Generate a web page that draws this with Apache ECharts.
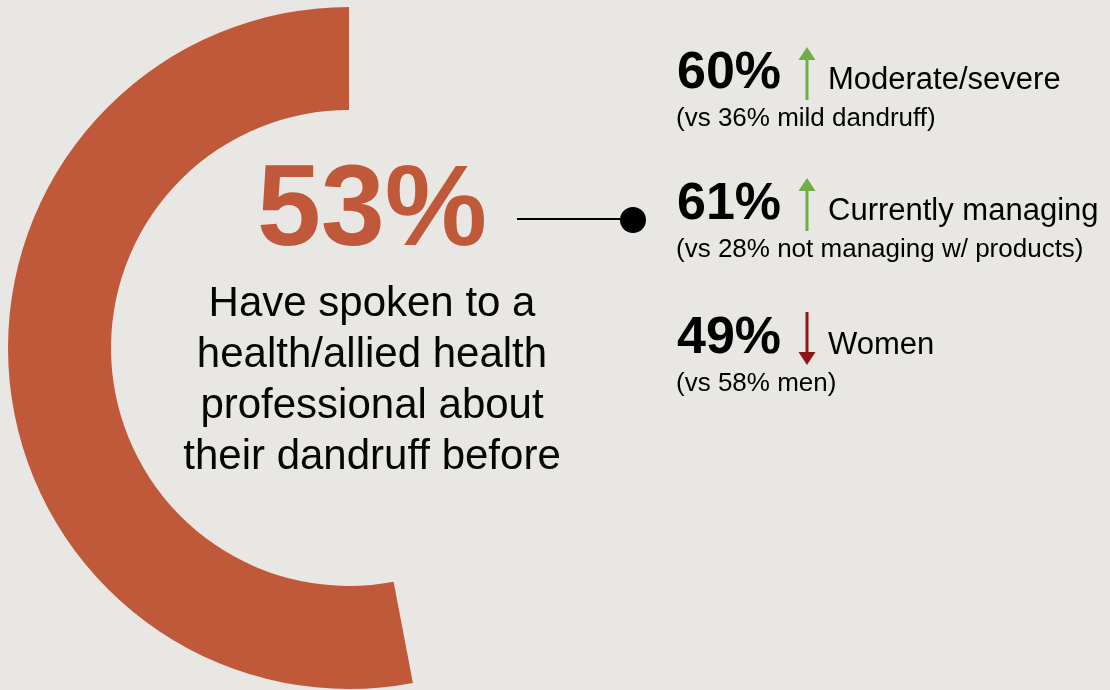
<!DOCTYPE html>
<html>
<head>
<meta charset="utf-8">
<script src="https://cdn.jsdelivr.net/npm/echarts@6/dist/echarts.min.js"></script>
<style>
  html, body { margin: 0; padding: 0; background: #E9E7E4; }
  #chart { width: 1110px; height: 690px; }
</style>
</head>
<body>
<div id="chart"></div>
<script>
// Headline share and its caption
const headlineValue = 53;
const headlineCaption = ['Have spoken to a', 'health/allied health', 'professional about', 'their dandruff before'];

// Sub-group breakdown shown on the right
const groupLabels = ['Moderate/severe', 'Currently managing', 'Women'];
const groupValues = [60, 61, 49];
const compareValues = [36, 28, 58];
const compareLabels = ['mild dandruff', 'not managing w/ products', 'men'];

const ORANGE = '#C0593A';
const UP = '#70AD47';
const DOWN = '#8E1616';
const FONT = '"Liberation Sans", Arial, Helvetica, sans-serif';

const chart = echarts.init(document.getElementById('chart'), null, { renderer: 'canvas' });

// y of em-box middle for a given alphabetic baseline
const mid = (baseline, size) => baseline - 0.3465 * size;

function arrow(x, top, bottom, up, color) {
  const head = 13, half = 8.5;
  const children = [];
  if (up) {
    children.push({ type: 'line', shape: { x1: x, y1: top + head - 1, x2: x, y2: bottom }, style: { stroke: color, lineWidth: 3 } });
    children.push({ type: 'polygon', shape: { points: [[x - half, top + head], [x + half, top + head], [x, top]] }, style: { fill: color } });
  } else {
    children.push({ type: 'line', shape: { x1: x, y1: top, x2: x, y2: bottom - head + 1 }, style: { stroke: color, lineWidth: 3 } });
    children.push({ type: 'polygon', shape: { points: [[x - half, bottom - head], [x + half, bottom - head], [x, bottom]] }, style: { fill: color } });
  }
  return { type: 'group', children };
}

const rowBaselines = [92, 223, 357];
const graphics = [];

// Headline number
graphics.push({
  type: 'text', x: 372, y: mid(253, 115),
  style: { text: headlineValue + '%', fill: ORANGE, fontFamily: FONT, fontSize: 115, fontWeight: 'bold', align: 'center', verticalAlign: 'middle' }
});

// Caption under the headline
graphics.push({
  type: 'text', x: 372, y: 279,
  style: { text: headlineCaption.join('\n'), fill: '#050505', fontFamily: FONT, fontSize: 42, lineHeight: 51, align: 'center', verticalAlign: 'top' }
});

// Connector line with dot
graphics.push({ type: 'line', shape: { x1: 517, y1: 219, x2: 625, y2: 219 }, style: { stroke: '#000', lineWidth: 2 } });
graphics.push({ type: 'circle', shape: { cx: 633, cy: 220, r: 13 }, style: { fill: '#000' } });

// Right-hand breakdown rows
groupValues.forEach((v, i) => {
  const b = rowBaselines[i];
  const up = v > compareValues[i];
  graphics.push({
    type: 'text', x: 677, y: mid(b, 52),
    style: { text: v + '%', fill: '#000', fontFamily: FONT, fontSize: 52, fontWeight: 'bold', align: 'left', verticalAlign: 'middle' }
  });
  graphics.push(arrow(807, b - 45, b + 8, up, up ? UP : DOWN));
  graphics.push({
    type: 'text', x: 828, y: mid(b - 1, 31),
    style: { text: groupLabels[i], fill: '#000', fontFamily: FONT, fontSize: 31, align: 'left', verticalAlign: 'middle' }
  });
  graphics.push({
    type: 'text', x: 676, y: mid(b + 35.5, 26),
    style: { text: '(vs ' + compareValues[i] + '% ' + compareLabels[i] + ')', fill: '#000', fontFamily: FONT, fontSize: 26, align: 'left', verticalAlign: 'middle' }
  });
});

chart.setOption({
  backgroundColor: '#E9E7E4',
  animation: false,
  series: [{
    type: 'pie',
    center: [349, 348],
    radius: [238, 341],
    startAngle: 90,
    clockwise: false,
    silent: true,
    label: { show: false },
    labelLine: { show: false },
    emphasis: { disabled: true },
    data: [
      { value: headlineValue, itemStyle: { color: ORANGE } },
      { value: 100 - headlineValue, itemStyle: { color: 'rgba(0,0,0,0)' } }
    ]
  }],
  graphic: graphics
});
</script>
</body>
</html>
